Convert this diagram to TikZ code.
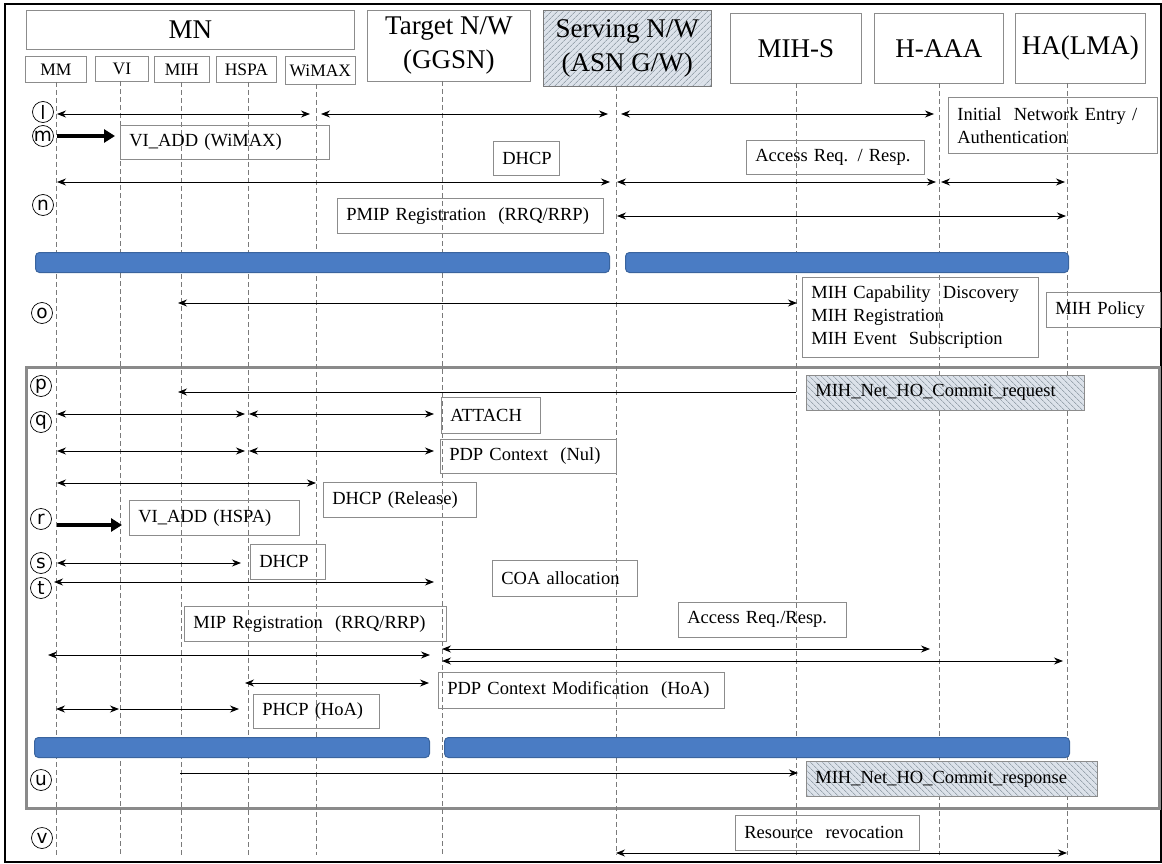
\documentclass[tikz,border=0pt]{standalone}
\usepackage{fontspec}
\setmainfont{Liberation Serif}
\newfontfamily\circfont{DejaVu Sans}
\usetikzlibrary{arrows.meta,patterns.meta}

\definecolor{boxgray}{HTML}{8C8C8C}
\definecolor{lifegray}{HTML}{7A7A7A}
\definecolor{framegray}{HTML}{8A8A8A}
\definecolor{barfill}{HTML}{4A7CC4}
\definecolor{barline}{HTML}{3A649E}
\definecolor{hatchbg}{HTML}{DCE2EA}
\definecolor{hatchln}{HTML}{76848F}

\newcommand\bigfont{\fontsize{27}{34}\selectfont}
\newcommand\smallfont{\fontsize{17.5}{20}\selectfont}
\newcommand\msgfont{\fontsize{18.5}{23}\selectfont}

% box given by its corners: style, name, x1, y1, x2, y2, text
\newcommand\hdrbox[7]{%
  \pgfmathsetmacro\cbw{#5-#3}\pgfmathsetmacro\cbh{#6-#4}%
  \node[#1, anchor=north west, minimum width=\cbw pt, minimum height=\cbh pt] (#2) at (#3,#4) {#7};}
% label box with left-aligned text
\newcommand\lblbox[7]{%
  \pgfmathsetmacro\cbw{#5-#3-18}\pgfmathsetmacro\cbh{#6-#4}%
  \node[#1, anchor=north west, text width=\cbw pt, minimum height=\cbh pt] (#2) at (#3,#4) {#7};}

\tikzset{
  >={Stealth[length=9pt,width=7pt]},
  hdr/.style={draw=boxgray, line width=0.7pt, align=center, inner sep=0pt},
  hbig/.style={hdr, font=\bigfont},
  hsmall/.style={hdr, font=\smallfont},
  lbl/.style={draw=boxgray, line width=0.7pt, align=left, inner xsep=9pt, inner ysep=0pt, font=\msgfont},
  hatchR/.style={preaction={fill=hatchbg}, pattern={Lines[angle=45,distance=4pt,line width=0.6pt]}, pattern color=hatchln},
  hatchL/.style={preaction={fill=hatchbg}, pattern={Lines[angle=-45,distance=4pt,line width=0.6pt]}, pattern color=hatchln},
  bar/.style={fill=barfill, draw=barline, line width=1pt, rounded corners=4pt, inner sep=0pt},
  life/.style={draw=lifegray, line width=0.6pt, dash pattern=on 5pt off 3pt},
  dm/.style={line width=0.9pt, <->},
  sm/.style={line width=0.9pt, ->},
  fat/.style={line width=3.5pt, -{Triangle[length=11pt,width=13pt]}},
  circ/.style={circle, draw, line width=0.7pt, minimum size=21pt, inner sep=0pt, font=\circfont\fontsize{18.5}{18.5}\selectfont},
}

\begin{document}
\begin{tikzpicture}[x=1pt,y=-1pt]
\useasboundingbox (0,0) rectangle (1162,864);

% frames
\draw[line width=1.2pt] (5,4) rectangle (1161,862);
\draw[framegray, line width=3pt] (26,367) rectangle (1159,808);

% header
\hdrbox{hbig}{mn}{26}{10}{354}{49}{MN}
\hdrbox{hsmall}{mm}{25}{56}{86}{82}{MM}
\hdrbox{hsmall}{vi}{95}{56}{148}{81}{VI}
\hdrbox{hsmall}{mih}{154}{56}{209}{82}{MIH}
\hdrbox{hsmall}{hspa}{216}{56}{276}{82}{HSPA}
\hdrbox{hsmall}{wimax}{285}{56}{355}{84}{WiMAX}
\hdrbox{hbig}{target}{367}{10}{530}{81}{Target N/W\\(GGSN)}
\hdrbox{hbig, hatchR, draw=lifegray}{serving}{543}{10}{711}{86}{Serving N/W\\(ASN G/W)}
\hdrbox{hbig}{mihs}{730}{13}{861}{83}{MIH-S}
\hdrbox{hbig}{haaa}{874}{13}{1003}{83}{H-AAA}
\hdrbox{hbig}{ha}{1015}{13}{1145}{83}{HA(LMA)}

% lifelines
\coordinate (lMM) at (56,82);
\coordinate (lVI) at (120,81);
\coordinate (lMIH) at (181,82);
\coordinate (lHS) at (248,82);
\coordinate (lWX) at (316,84);
\coordinate (lTG) at (442,81);
\coordinate (lSV) at (616,86);
\coordinate (lMS) at (796,83);
\coordinate (lAA) at (939,83);
\coordinate (lHA) at (1067,83);
\foreach \l in {lMM,lVI,lMIH,lHS,lWX,lTG,lSV,lMS,lAA,lHA}
  \draw[life] (\l) -- (\l |- 0,855);

% phase bars
\hdrbox{bar}{bar1}{35}{252}{609}{272}{}
\hdrbox{bar}{bar2}{625}{252}{1068}{272}{}
\hdrbox{bar}{bar3}{34}{737}{429}{757}{}
\hdrbox{bar}{bar4}{444}{737}{1069}{757}{}

% labels
\lblbox{lbl}{ine}{948}{97}{1157}{153}{Initial\ \ Network Entry /\\Authentication}
\lblbox{lbl}{viw}{120}{125}{329}{159}{VI\_ADD (WiMAX)}
\lblbox{lbl}{dhcpa}{493}{141}{559}{175}{DHCP}
\lblbox{lbl}{acca}{746}{140}{924}{174}{Access Req. / Resp.}
\lblbox{lbl}{pmip}{337}{198}{603}{233}{PMIP Registration\ \ (RRQ/RRP)}
\lblbox{lbl}{mihcap}{802}{277}{1038}{357}{MIH Capability\ \ Discovery\\MIH Registration\\MIH Event\ \ Subscription}
\lblbox{lbl}{policy}{1046}{292}{1160}{327}{MIH Policy}
\lblbox{lbl, hatchL}{req}{806}{375}{1084}{410}{MIH\_Net\_HO\_Commit\_request}
\lblbox{lbl}{attach}{441}{397}{540}{433}{ATTACH}
\lblbox{lbl}{pdpn}{440}{439}{616}{473}{PDP Context\ \ (Nul)}
\lblbox{lbl}{dhcprel}{323}{482}{476}{517}{DHCP (Release)}
\lblbox{lbl}{vih}{129}{500}{299}{535}{VI\_ADD (HSPA)}
\lblbox{lbl}{dhcpb}{250}{544}{325}{579}{DHCP}
\lblbox{lbl}{coa}{492}{560}{637}{596}{COA allocation}
\lblbox{lbl}{mip}{184}{606}{446}{641}{MIP Registration\ \ (RRQ/RRP)}
\lblbox{lbl}{accb}{678}{602}{846}{637}{Access Req./Resp.}
\lblbox{lbl}{pdpm}{438}{672}{724}{708}{PDP Context Modification\ \ (HoA)}
\lblbox{lbl}{phcp}{253}{694}{379}{728}{PHCP (HoA)}
\lblbox{lbl, hatchL}{rsp}{806}{761}{1097}{796}{MIH\_Net\_HO\_Commit\_response}
\lblbox{lbl}{rev}{735}{815}{919}{850}{Resource\ \ revocation}

% step markers
\node[circ] (cl) at (43,112) {l};
\node[circ] (cm) at (43,136) {m};
\node[circ] (cn) at (43,205) {n};
\node[circ] (co) at (42,313) {o};
\node[circ] (cp) at (41,386) {p};
\node[circ] (cq) at (41,422) {q};
\node[circ] (cr) at (41,519) {r};
\node[circ] (cs) at (41,563) {s};
\node[circ] (ct) at (41,588) {t};
\node[circ] (cu) at (41,780) {u};
\node[circ] (cv) at (42,838) {v};

% (l) initial network entry
\draw[dm, shorten <=1pt, shorten >=6pt] (lMM |- 0,114) -- (lWX |- 0,114);
\draw[dm, shorten <=5pt, shorten >=8pt] (lWX |- 0,114) -- (lSV |- 0,114);
\draw[dm, shorten <=5pt, shorten >=5pt] (lSV |- 0,114) -- (lAA |- 0,114);
% (m) interface add
\draw[fat, shorten <=1pt, shorten >=5pt] (lMM |- 0,136) -- (lVI |- 0,136);
\draw[dm, shorten <=1pt, shorten >=6pt] (lMM |- 0,182) -- (lSV |- 0,182);
\draw[dm, shorten <=1pt, shorten >=3pt] (lSV |- 0,182) -- (lAA |- 0,182);
\draw[dm, shorten <=2pt, shorten >=2pt] (lAA |- 0,182) -- (lHA |- 0,182);
% (n) PMIP registration
\draw[dm, shorten <=1pt, shorten >=1pt] (lSV |- 0,216) -- (lHA |- 0,216);
% (o) MIH discovery
\draw[dm, shorten <=-3pt, shorten >=-1pt] (lMIH |- 0,303) -- (lMS |- 0,303);
% (p) commit request
\draw[sm, shorten >=-3pt] (lMS |- 0,392) -- (lMIH |- 0,392);
% (q) attach and PDP context
\draw[dm, shorten <=1pt, shorten >=3pt] (lMM |- 0,414) -- (lHS |- 0,414);
\draw[dm, shorten <=1pt, shorten >=8pt] (lHS |- 0,414) -- (lTG |- 0,414);
\draw[dm, shorten <=1pt, shorten >=3pt] (lMM |- 0,451) -- (lHS |- 0,451);
\draw[dm, shorten <=1pt, shorten >=8pt] (lHS |- 0,451) -- (lTG |- 0,451);
\draw[dm, shorten <=1pt, shorten >=0pt] (lMM |- 0,483) -- (lWX |- 0,483);
% (r) interface add
\draw[fat, shorten <=1pt, shorten >=-2pt] (lMM |- 0,525) -- (lVI |- 0,525);
% (s) DHCP
\draw[dm, shorten <=1pt, shorten >=7pt] (lMM |- 0,563) -- (lHS |- 0,563);
% (t) care-of address
\draw[dm, shorten <=-2pt, shorten >=8pt] (lMM |- 0,582) -- (lTG |- 0,582);
% MIP registration
\draw[dm, shorten <=0pt, shorten >=9pt] (lTG |- 0,649) -- (lAA |- 0,649);
\draw[dm, shorten <=-8pt, shorten >=12pt] (lMM |- 0,655) -- (lTG |- 0,655);
\draw[dm, shorten <=0pt, shorten >=4pt] (lTG |- 0,661) -- (lHA |- 0,661);
\draw[dm, shorten <=-3pt, shorten >=13pt] (lHS |- 0,683) -- (lTG |- 0,683);
\draw[dm, shorten <=0pt, shorten >=1pt] (lMM |- 0,709) -- (lVI |- 0,709);
\draw[sm, shorten >=9pt] (lVI |- 0,709) -- (lHS |- 0,709);
% (u) commit response
\draw[sm, shorten <=-1pt, shorten >=-2pt] (lMIH |- 0,773) -- (lMS |- 0,773);
% (v) resource revocation
\draw[dm] (lSV |- 0,853) -- (lHA |- 0,853);
\end{tikzpicture}
\end{document}
